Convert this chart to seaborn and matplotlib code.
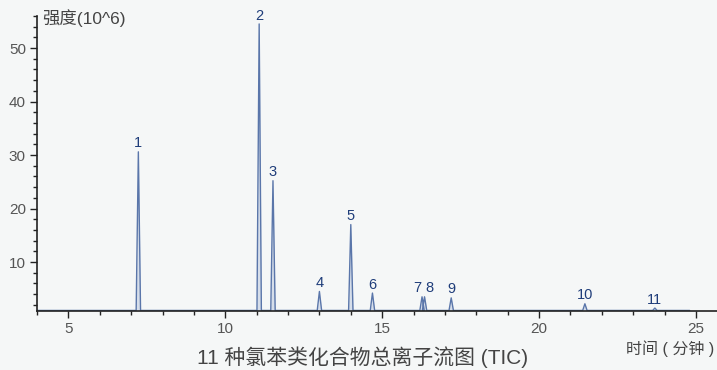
import numpy as np
import pandas as pd
import matplotlib
matplotlib.use("Agg")
import matplotlib.pyplot as plt
from matplotlib.ticker import MultipleLocator
import seaborn as sns

# Retention times (min) and peak heights (10^6) of the 11 chlorobenzenes
peak_labels = ["1", "2", "3", "4", "5", "6", "7", "8", "9", "10", "11"]
retention_times = [7.23, 11.08, 11.52, 13.00, 14.00, 14.69, 16.27, 16.35, 17.20, 21.46, 23.69]
peak_heights = [30.6, 54.5, 25.2, 4.5, 17.0, 4.2, 3.5, 3.5, 3.3, 2.2, 1.4]
baseline_level = 0.95
run_start, run_end = 4.0, 24.8
peak_half_width = 0.07

sns.set_theme(style="white")
plt.rcParams["font.family"] = ["Liberation Sans", "Noto Sans CJK SC"]

# Build the chromatogram trace: flat baseline with a narrow peak at each retention time
xs, ys = [run_start], [baseline_level]
for rt, h in zip(retention_times, peak_heights):
    xs += [rt - peak_half_width, rt, rt + peak_half_width]
    ys += [baseline_level, h, baseline_level]
xs.append(run_end)
ys.append(baseline_level)
trace = pd.DataFrame({"time": xs, "intensity": ys})

bg = "#f5f7f7"
fig = plt.figure(figsize=(7.17, 3.70), dpi=100, facecolor=bg)
ax = fig.add_axes([0.0516, 0.1595, 0.9484, 0.7975])
ax.set_facecolor(bg)

line_color = "#5a76aa"
ax.fill_between(trace["time"], baseline_level, trace["intensity"], color="#b8c6de", alpha=0.5, lw=0)
sns.lineplot(data=trace, x="time", y="intensity", ax=ax, color=line_color, lw=1.0, sort=False)

ax.set_xlim(4.0, 25.67)
ax.set_ylim(0.85, 56.0)

for lab, rt, h in zip(peak_labels, retention_times, peak_heights):
    dx = 0
    if lab == "7":
        dx = -0.15
    elif lab == "8":
        dx = 0.15
    ax.annotate(lab, (rt + dx, h), xytext=(0, 1), textcoords="offset points",
                ha="center", va="bottom", fontsize=10.5, color="#1f3d7a")

ax.xaxis.set_major_locator(MultipleLocator(5))
ax.xaxis.set_minor_locator(MultipleLocator(1))
ax.yaxis.set_major_locator(MultipleLocator(10))
ax.yaxis.set_minor_locator(MultipleLocator(2))
ax.set_yticks([10, 20, 30, 40, 50])
ax.tick_params(axis="both", which="major", direction="out", length=5, width=1,
               color="#222222", labelsize=11, labelcolor="#555555", pad=3,
               bottom=True, left=True)
ax.tick_params(axis="both", which="minor", direction="out", length=3, width=1,
               color="#222222", bottom=True, left=True)

for side in ["top", "right"]:
    ax.spines[side].set_visible(False)
for side in ["left", "bottom"]:
    ax.spines[side].set_color("#222222")
    ax.spines[side].set_linewidth(1.2)

ax.set_xlabel("")
ax.set_ylabel("")

fig.text(42 / 717, 1 - 18 / 370, "强度(10^6)", ha="left", va="center",
         fontsize=12.5, color="#444444")
fig.text(714 / 717, 1 - 349 / 370, "时间 ( 分钟 )", ha="right", va="center",
         fontsize=11.5, color="#444444")
fig.text(363 / 717, 1 - 357 / 370, "11 种氯苯类化合物总离子流图 (TIC)", ha="center",
         va="center", fontsize=15, color="#444444")

fig.savefig("out.png", dpi=100, facecolor=bg)
